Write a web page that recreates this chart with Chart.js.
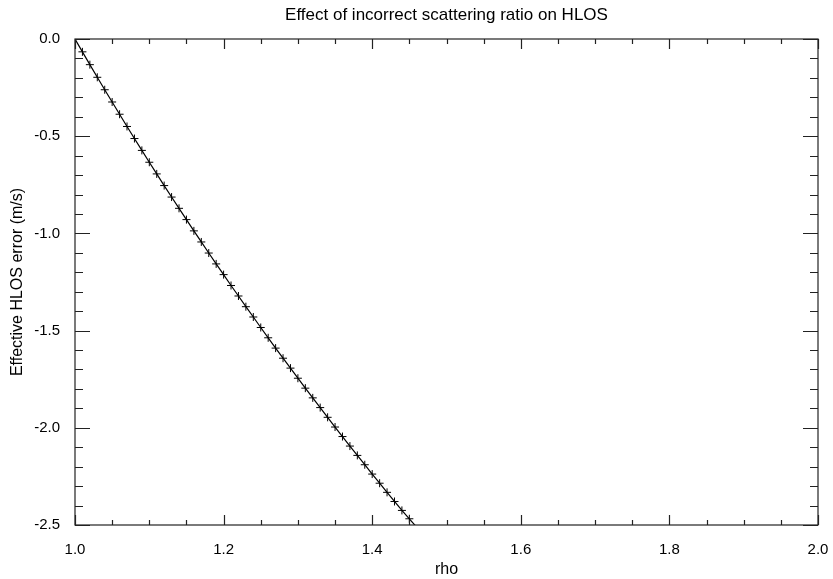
<!DOCTYPE html>
<html>
<head>
<meta charset="utf-8">
<script src="https://cdn.jsdelivr.net/npm/chart.js@4.4.1/dist/chart.umd.min.js"></script>
<style>
html, body { margin: 0; padding: 0; background: #fff; }
#wrap { width: 833px; height: 579px; }
</style>
</head>
<body>
<div id="wrap"><canvas id="c"></canvas></div>
<script>
'use strict';

// scattering ratio (x)
const rho = [1.00, 1.01, 1.02, 1.03, 1.04, 1.05, 1.06, 1.07, 1.08, 1.09,
  1.10, 1.11, 1.12, 1.13, 1.14, 1.15, 1.16, 1.17, 1.18, 1.19,
  1.20, 1.21, 1.22, 1.23, 1.24, 1.25, 1.26, 1.27, 1.28, 1.29,
  1.30, 1.31, 1.32, 1.33, 1.34, 1.35, 1.36, 1.37, 1.38, 1.39,
  1.40, 1.41, 1.42, 1.43, 1.44, 1.45, 1.46];

// effective HLOS error (m/s)
const hlosErr = [0.000, -0.066, -0.132, -0.197, -0.261, -0.324, -0.387, -0.450, -0.512, -0.573,
  -0.634, -0.694, -0.754, -0.813, -0.871, -0.929, -0.987, -1.044, -1.101, -1.157,
  -1.212, -1.268, -1.322, -1.377, -1.430, -1.484, -1.537, -1.590, -1.642, -1.693,
  -1.745, -1.796, -1.846, -1.896, -1.946, -1.996, -2.045, -2.094, -2.142, -2.190,
  -2.238, -2.285, -2.332, -2.379, -2.425, -2.468, -2.512];

// axis ranges
const xRange = [1.0, 2.0];
const yRange = [-2.5, 0.0];

const fontFam = '"Liberation Sans", Arial, Helvetica, sans-serif';

// last point sits below the axis, only the line goes there
const markerSizes = rho.map((v, i) => (i === rho.length - 1 ? 0 : 4));

// IDL style box with inward ticks on all four sides
const idlBox = {
  id: 'idlBox',
  afterDraw(chart) {
    const { ctx, chartArea: a, scales } = chart;
    const x = scales.x, y = scales.y;
    ctx.save();
    ctx.strokeStyle = '#222';
    ctx.lineWidth = 1.2;
    ctx.strokeRect(a.left, a.top, a.right - a.left, a.bottom - a.top);
    ctx.beginPath();
    for (let i = 0; i <= 20; i++) {
      const px = Math.round(x.getPixelForValue(1.0 + i * 0.05)) + 0.5;
      const len = i % 4 === 0 ? 10 : 5;
      ctx.moveTo(px, a.bottom); ctx.lineTo(px, a.bottom - len);
      ctx.moveTo(px, a.top); ctx.lineTo(px, a.top + len);
    }
    for (let i = 0; i <= 25; i++) {
      const py = Math.round(y.getPixelForValue(-2.5 + i * 0.1)) + 0.5;
      const len = i % 5 === 0 ? 15 : 8;
      ctx.moveTo(a.left, py); ctx.lineTo(a.left + len, py);
      ctx.moveTo(a.right, py); ctx.lineTo(a.right - len, py);
    }
    ctx.stroke();
    ctx.restore();
  }
};

const ctx = document.getElementById('c');
new Chart(ctx, {
  type: 'scatter',
  data: {
    datasets: [{
      data: rho.map((r, i) => ({ x: r, y: hlosErr[i] })),
      showLine: true,
      borderColor: '#000',
      borderWidth: 1.2,
      tension: 0,
      pointStyle: 'cross',
      pointRadius: markerSizes,
      pointBorderColor: '#000',
      pointBorderWidth: 1,
      pointHoverRadius: 0
    }]
  },
  options: {
    responsive: true,
    maintainAspectRatio: false,
    animation: false,
    layout: { padding: { left: 0, right: 15, top: 0, bottom: 0 } },
    plugins: {
      legend: { display: false },
      tooltip: { enabled: false },
      title: {
        display: true,
        fullSize: false,
        text: 'Effect of incorrect scattering ratio on HLOS',
        color: '#000',
        font: { family: fontFam, size: 17, weight: 'normal' },
        padding: { top: 5, bottom: 13.6 }
      }
    },
    scales: {
      x: {
        type: 'linear',
        min: xRange[0],
        max: xRange[1],
        grid: { display: false },
        border: { display: false },
        ticks: {
          stepSize: 0.2,
          padding: 8,
          color: '#000',
          font: { family: fontFam, size: 15 },
          callback: v => v.toFixed(1)
        },
        title: {
          display: true,
          text: 'rho',
          color: '#000',
          font: { family: fontFam, size: 16 },
          padding: { top: 0, bottom: 0 }
        },
        afterFit: s => { s.height = 54; s.paddingLeft = 0; s.paddingRight = 0; }
      },
      y: {
        type: 'linear',
        min: yRange[0],
        max: yRange[1],
        grid: { display: false },
        border: { display: false },
        ticks: {
          stepSize: 0.5,
          padding: 7,
          color: '#000',
          font: { family: fontFam, size: 15 },
          callback: v => v.toFixed(1)
        },
        title: {
          display: true,
          text: 'Effective HLOS error (m/s)',
          color: '#000',
          font: { family: fontFam, size: 16 },
          padding: { top: 8, bottom: 0 }
        },
        afterFit: s => { s.width = 75; s.paddingTop = 0; s.paddingBottom = 0; }
      }
    }
  },
  plugins: [idlBox]
});
</script>
</body>
</html>
